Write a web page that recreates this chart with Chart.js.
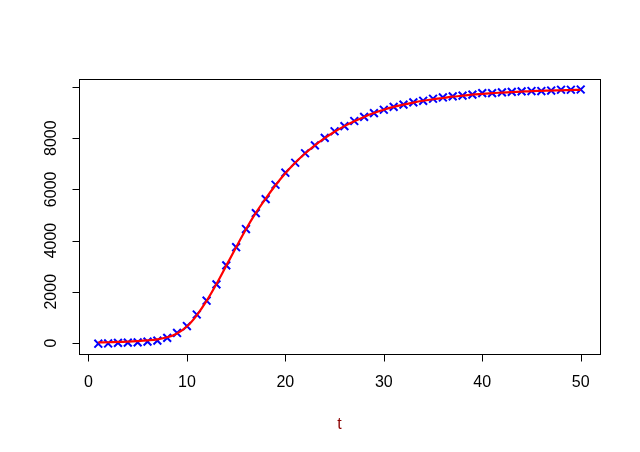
<!DOCTYPE html>
<html>
<head>
<meta charset="utf-8">
<script src="https://cdn.jsdelivr.net/npm/chart.js@4/dist/chart.umd.min.js"></script>
<style>
  html, body { margin: 0; padding: 0; background: #fff; }
  #wrap { width: 640px; height: 452px; }
</style>
</head>
<body>
<div id="wrap"><canvas id="growth" width="640" height="452"></canvas></div>
<script>
// observed values (blue crosses) and fitted curve (red line)
const tValues = [1, 2, 3, 4, 5, 6, 7, 8, 9, 10, 11, 12, 13, 14, 15, 16, 17, 18, 19, 20,
    21, 22, 23, 24, 25, 26, 27, 28, 29, 30, 31, 32, 33, 34, 35, 36, 37, 38, 39, 40,
    41, 42, 43, 44, 45, 46, 47, 48, 49, 50];
const observed = [-30, -20, 0, 10, 20, 50, 90, 200, 390, 660, 1110, 1650, 2290, 3030, 3740, 4450, 5070, 5620, 6180, 6650,
    7040, 7410, 7720, 8010, 8270, 8470, 8670, 8830, 8980, 9110, 9220, 9310, 9400, 9460, 9540, 9590, 9630, 9660, 9700, 9760,
    9760, 9790, 9810, 9830, 9840, 9840, 9860, 9890, 9890, 9900];
const fitted = [20, 28, 38, 52, 72, 100, 140, 220, 370, 640, 1080, 1640, 2300, 3020, 3740, 4440, 5080, 5640, 6160, 6630,
    7040, 7400, 7720, 8000, 8250, 8470, 8660, 8830, 8980, 9110, 9220, 9310, 9390, 9460, 9520, 9570, 9620, 9660, 9700, 9730,
    9760, 9780, 9800, 9820, 9840, 9850, 9860, 9870, 9880, 9890];
const xTicks = [0, 10, 20, 30, 40, 50];
const yTicks = [0, 2000, 4000, 6000, 8000, 10000];
const yTickLabels = ['0', '2000', '4000', '6000', '8000', ''];
const xTitle = 't';

const FONT = '16px "Liberation Sans", Arial, sans-serif';

// R style box, ticks and labels, drawn from the chart scales
const baseAxes = {
    id: 'baseAxes',
    afterDraw(chart) {
        const { ctx, chartArea: a, scales: { x, y } } = chart;
        const L = Math.round(a.left) + 0.5, R = Math.round(a.right) + 0.5;
        const T = Math.round(a.top) + 0.5, B = Math.round(a.bottom) + 0.5;
        ctx.save();
        ctx.strokeStyle = '#000';
        ctx.lineWidth = 1;
        ctx.strokeRect(L, T, R - L, B - T);

        ctx.fillStyle = '#000';
        ctx.font = FONT;
        ctx.beginPath();
        xTicks.forEach(v => {
            const px = Math.round(x.getPixelForValue(v)) + 0.5;
            ctx.moveTo(px, B);
            ctx.lineTo(px, B + 7);
        });
        yTicks.forEach(v => {
            const py = Math.round(y.getPixelForValue(v)) + 0.5;
            ctx.moveTo(L, py);
            ctx.lineTo(L - 7, py);
        });
        ctx.stroke();

        ctx.textAlign = 'center';
        ctx.textBaseline = 'alphabetic';
        xTicks.forEach(v => {
            ctx.fillText(String(v), x.getPixelForValue(v), B + 32);
        });
        yTicks.forEach((v, i) => {
            if (!yTickLabels[i]) return;
            ctx.save();
            ctx.translate(L - 24, y.getPixelForValue(v));
            ctx.rotate(-Math.PI / 2);
            ctx.fillText(yTickLabels[i], 0, 0);
            ctx.restore();
        });

        ctx.fillStyle = '#8B0000';
        ctx.fillText(xTitle, (a.left + a.right) / 2, B + 74);
        ctx.restore();
    }
};

const ctx = document.getElementById('growth').getContext('2d');
new Chart(ctx, {
    type: 'scatter',
    data: {
        datasets: [{
            label: 'fitted',
            type: 'line',
            data: tValues.map((t, i) => ({ x: t, y: fitted[i] })),
            borderColor: '#FF0000',
            borderWidth: 2.2,
            pointRadius: 0,
            tension: 0.3,
            fill: false,
            order: 0
        }, {
            label: 'observed',
            data: tValues.map((t, i) => ({ x: t, y: observed[i] })),
            pointStyle: 'crossRot',
            pointRadius: 5.5,
            borderColor: '#0000FF',
            backgroundColor: '#0000FF',
            pointBorderWidth: 2,
            order: 1
        }]
    },
    options: {
        responsive: false,
        animation: false,
        layout: { padding: { left: 79, right: 40, top: 79, bottom: 98 } },
        plugins: {
            legend: { display: false },
            tooltip: { enabled: false }
        },
        scales: {
            x: { type: 'linear', min: -0.96, max: 51.96, display: false },
            y: { type: 'linear', min: -432, max: 10311, display: false }
        }
    },
    plugins: [baseAxes]
});
</script>
</body>
</html>
